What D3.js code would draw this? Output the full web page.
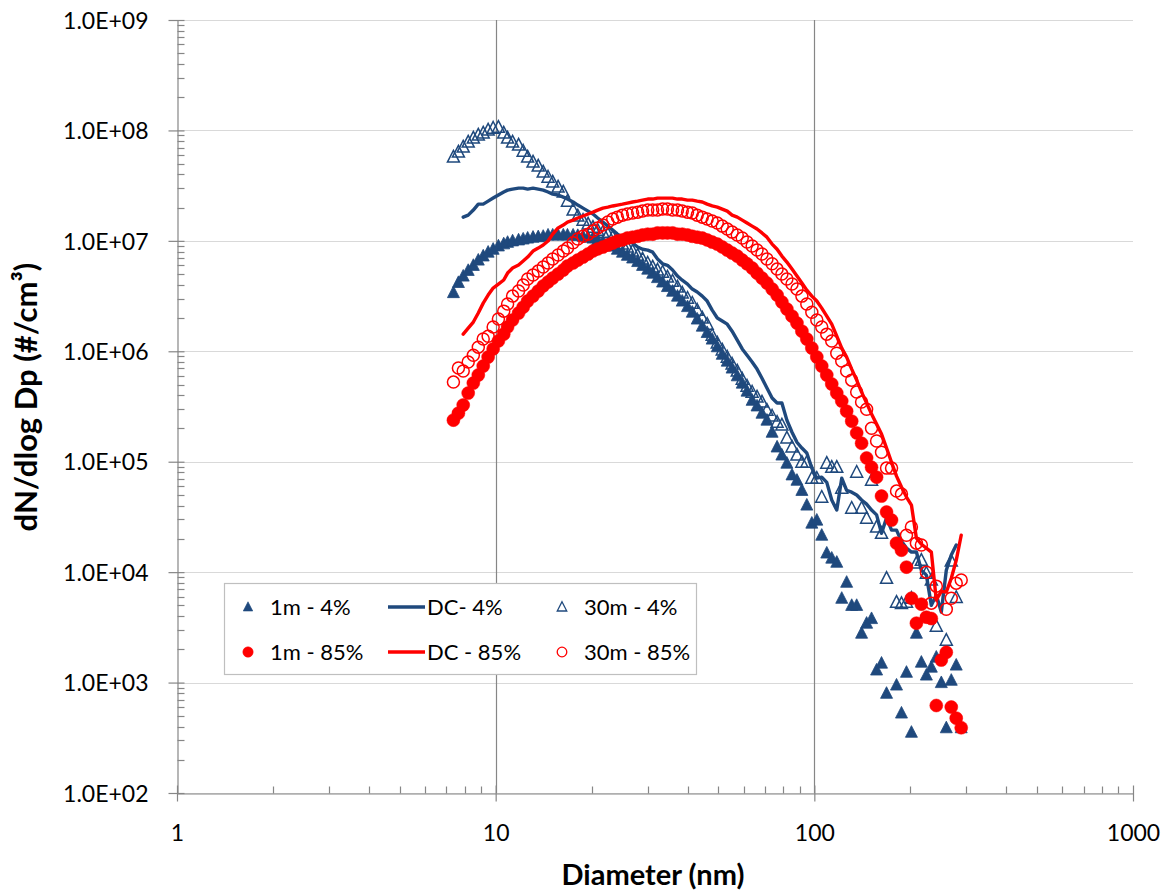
<!DOCTYPE html>
<html><head><meta charset="utf-8">
<script src="https://cdn.jsdelivr.net/npm/d3@7"></script>
<style>
body{margin:0;background:#fff}
svg{display:block}
text{font-family:Lato,"Open Sans",sans-serif;fill:#000}
</style>
</head><body>
<svg id="chart" width="1167" height="894"></svg>
<script>
// ---------- data ----------
const diameters = [7.37,7.64,7.91,8.20,8.51,8.82,9.14,9.47,9.82,10.2,
10.6,10.9,11.3,11.8,12.2,12.6,13.1,13.6,14.1,14.6,
15.1,15.7,16.3,16.8,17.5,18.1,18.8,19.5,20.2,20.9,
21.7,22.5,23.3,24.1,25.0,25.9,26.9,27.9,28.9,30.0,
31.1,32.2,33.4,34.6,35.9,37.2,38.5,40.0,41.4,42.9,
44.5,46.1,47.8,49.6,51.4,53.3,55.2,57.3,59.4,61.5,
63.8,66.1,68.5,71.0,73.7,76.4,79.1,82.0,85.1,88.2,
91.4,94.7,98.2,101.8,105.5,109.4,113.4,117.6,121.9,126.3,
131.0,135.8,140.7,145.9,151.2,156.8,162.5,168.5,174.7,181.1,
187.7,194.6,201.7,209.1,216.7,224.7,232.9,241.4,250.3,259.5,
269.0,278.8,289.0];

const m1_4 = [3.4e6,4.2e6,4.8e6,5.4e6,6.0e6,6.7e6,7.3e6,7.9e6,8.4e6,9.0e6,
9.4e6,9.7e6,1.0e7,1.02e7,1.04e7,1.06e7,1.08e7,1.09e7,1.1e7,1.13e7,
1.13e7,1.13e7,1.13e7,1.13e7,1.13e7,1.12e7,1.1e7,1.08e7,1.06e7,1.02e7,
9.75e6,9.35e6,8.97e6,8.4e6,7.9e6,7.4e6,7.0e6,6.5e6,6.0e6,5.55e6,
5.1e6,4.65e6,4.24e6,3.86e6,3.5e6,3.16e6,2.85e6,2.54e6,2.26e6,1.96e6,
1.69e6,1.48e6,1.29e6,1.1e6,9.4e5,8.15e5,7.05e5,6.0e5,5.15e5,4.36e5,
3.6e5,3.2e5,2.75e5,2.38e5,1.85e5,1.36e5,1.15e5,9.7e4,7.6e4,6.8e4,
5.5e4,4.05e4,2.78e4,2.96e4,2.16e4,1.49e4,1.34e4,1.23e4,5.8e3,8.1e3,
5.0e3,5.0e3,2.8e3,3.45e3,3.8e3,1.3e3,1.5e3,8.0e2,null,9.5e2,
5.3e2,1.24e3,3.55e2,2.8e3,1.53e3,1.17e3,1.38e3,1.7e3,1.0e3,3.9e2,
1.05e3,1.44e3,3.9e2];

const dc_4 = [null,null,1.64e7,1.71e7,1.9e7,2.15e7,2.15e7,2.29e7,2.44e7,2.6e7,
2.77e7,2.88e7,2.94e7,3.0e7,3.0e7,2.94e7,3.0e7,2.94e7,2.88e7,2.77e7,
2.65e7,2.6e7,2.49e7,2.39e7,2.25e7,2.11e7,1.98e7,1.86e7,1.75e7,1.61e7,
1.48e7,1.36e7,1.25e7,1.15e7,1.08e7,1.02e7,9.55e6,8.8e6,8.4e6,8.25e6,
7.9e6,6.85e6,6.2e6,6.0e6,5.45e6,4.8e6,4.4e6,4.06e6,3.66e6,3.44e6,
3.16e6,2.85e6,2.36e6,2.0e6,1.88e6,1.76e6,1.52e6,1.26e6,1.05e6,9.2e5,
8.0e5,6.9e5,5.7e5,4.65e5,3.77e5,3.4e5,3.4e5,2.38e5,1.85e5,1.5e5,
1.33e5,1.2e5,8.75e4,7.1e4,7.25e4,6.5e4,4.5e4,3.65e4,7.1e4,5.5e4,
5.3e4,5.0e4,4.5e4,4.13e4,3.65e4,3.3e4,2.25e4,3.1e4,2.4e4,2.4e4,
1.9e4,1.65e4,1.52e4,1.52e4,1.04e4,9.4e3,5.0e3,6.2e3,4.35e3,1.04e4,
1.43e4,1.76e4,null];

const m30_4 = [5.74e7,6.37e7,7.07e7,7.85e7,8.53e7,9.08e7,9.47e7,1.01e8,1.05e8,1.07e8,
9.47e7,8.53e7,7.85e7,7.38e7,6.5e7,5.74e7,5.17e7,4.76e7,4.2e7,3.78e7,
3.41e7,3.07e7,2.77e7,2.29e7,1.9e7,1.68e7,1.54e7,1.42e7,1.33e7,1.25e7,
1.2e7,1.15e7,1.08e7,1.02e7,9.35e6,8.8e6,8.08e6,7.4e6,6.85e6,6.29e6,
5.79e6,5.45e6,5.21e6,4.7e6,4.32e6,3.82e6,3.37e6,3.03e6,2.73e6,2.36e6,
2.0e6,1.76e6,1.4e6,1.19e6,1.03e6,8.86e5,7.66e5,6.62e5,5.6e5,4.84e5,
4.27e5,3.85e5,3.47e5,2.93e5,2.59e5,2.28e5,2.15e5,1.64e5,1.36e5,1.15e5,
9.9e4,9.9e4,7.1e4,7.1e4,4.78e4,9.7e4,8.9e4,8.9e4,5.77e4,null,
3.8e4,8.05e4,3.8e4,3.08e4,6.8e4,2.56e4,2.25e4,8.8e3,null,5.35e3,
5.2e3,5.35e3,5.8e3,1.21e4,1.28e4,9.8e3,8.5e3,3.24e3,null,2.42e3,
1.26e4,5.9e3,null];

const m1_85 = [2.38e5,2.75e5,3.26e5,4.18e5,5.15e5,6.09e5,7.34e5,8.86e5,1.05e6,1.24e6,
1.43e6,1.66e6,1.92e6,2.22e6,2.51e6,2.85e6,3.16e6,3.51e6,3.9e6,4.24e6,
4.6e6,5.0e6,5.44e6,5.91e6,6.3e6,6.7e6,7.13e6,7.59e6,8.09e6,8.44e6,
8.79e6,9.16e6,9.55e6,9.96e6,1.02e7,1.06e7,1.08e7,1.1e7,1.13e7,1.15e7,
1.15e7,1.18e7,1.18e7,1.18e7,1.18e7,1.15e7,1.15e7,1.13e7,1.1e7,1.08e7,
1.06e7,1.02e7,9.75e6,9.35e6,8.8e6,8.25e6,7.75e6,7.28e6,6.7e6,6.2e6,
5.67e6,5.1e6,4.6e6,4.15e6,3.66e6,3.23e6,2.79e6,2.41e6,2.08e6,1.8e6,
1.52e6,1.29e6,1.07e6,8.86e5,7.34e5,6.09e5,5.05e5,4.18e5,3.54e5,2.87e5,
2.33e5,1.82e5,1.47e5,1.08e5,8.9e4,7.25e4,4.88e4,3.5e4,2.96e4,1.83e4,
1.58e4,1.11e4,5.8e3,3.45e3,5.13e3,3.91e3,3.8e3,6.2e2,1.6e3,1.88e3,
6.0e2,4.76e2,3.9e2];

const dc_85 = [null,null,1.43e6,1.62e6,1.84e6,2.22e6,2.73e6,3.23e6,3.74e6,4.06e6,
4.42e6,5.11e6,5.68e6,6.04e6,6.56e6,7.13e6,8.09e6,8.6e6,9.16e6,9.96e6,
1.15e7,1.31e7,1.39e7,1.48e7,1.54e7,1.61e7,1.68e7,1.75e7,1.82e7,1.9e7,
1.98e7,2.02e7,2.07e7,2.11e7,2.15e7,2.2e7,2.25e7,2.29e7,2.34e7,2.39e7,
2.39e7,2.44e7,2.44e7,2.44e7,2.44e7,2.39e7,2.39e7,2.34e7,2.34e7,2.29e7,
2.25e7,2.15e7,2.07e7,2.02e7,1.94e7,1.86e7,1.71e7,1.64e7,1.54e7,1.45e7,
1.36e7,1.28e7,1.18e7,1.08e7,9.35e6,8.4e6,7.28e6,6.43e6,5.55e6,4.8e6,
4.15e6,3.58e6,3.16e6,2.85e6,2.46e6,2.08e6,1.76e6,1.37e6,1.07e6,8.86e5,
6.9e5,5.48e5,4.27e5,3.4e5,2.7e5,2.19e5,1.78e5,1.33e5,9.9e4,7.4e4,
5.9e4,4.78e4,4.05e4,2.03e4,1.79e4,1.65e4,1.52e4,5.6e3,6.7e3,6.6e3,
8.8e3,1.28e4,2.16e4];

const m30_85 = [5.26e5,7.05e5,6.62e5,8.0e5,9.2e5,1.09e6,1.29e6,1.37e6,1.66e6,1.96e6,
2.31e6,2.68e6,3.16e6,3.51e6,3.98e6,4.51e6,4.9e6,5.32e6,5.79e6,6.3e6,
6.84e6,7.44e6,8.09e6,8.6e6,9.6e6,1.04e7,1.1e7,1.15e7,1.23e7,1.31e7,
1.39e7,1.48e7,1.58e7,1.64e7,1.71e7,1.75e7,1.79e7,1.82e7,1.86e7,1.9e7,
1.9e7,1.9e7,1.94e7,1.94e7,1.9e7,1.9e7,1.86e7,1.82e7,1.79e7,1.71e7,
1.64e7,1.58e7,1.51e7,1.45e7,1.36e7,1.28e7,1.2e7,1.13e7,1.06e7,9.75e6,
8.97e6,8.25e6,7.6e6,6.85e6,6.2e6,5.55e6,5.0e6,4.51e6,4.06e6,3.66e6,
3.16e6,2.68e6,2.26e6,1.92e6,1.66e6,1.43e6,1.24e6,9.6e5,8.15e5,6.62e5,
5.48e5,4.27e5,3.47e5,2.99e5,2.01e5,1.54e5,1.22e5,8.75e4,8.75e4,5.42e4,
5.09e4,2.16e4,2.56e4,1.83e4,1.76e4,1.0e4,5.24e3,7.47e3,null,4.62e3,
5.8e3,7.95e3,8.5e3];

const seriesNames = ["1m - 4%","DC- 4%","30m - 4%","1m - 85%","DC - 85%","30m - 85%"];
const xTicks = [1,10,100,1000];
const xTickLabels = ["1","10","100","1000"];
const yTicks = [1e2,1e3,1e4,1e5,1e6,1e7,1e8,1e9];
const yTickLabels = ["1.0E+02","1.0E+03","1.0E+04","1.0E+05","1.0E+06","1.0E+07","1.0E+08","1.0E+09"];
const xTitle = "Diameter (nm)";
const yTitle = "dN/dlog Dp (#/cm³)";

// ---------- setup ----------
const NAVY = "#1F497D", RED = "#FF0000", AXIS = "#868686", GRID = "#d9d9d9";
const svg = d3.select("#chart");
const L = 177, R = 1133, T = 20, B = 793;
const x = d3.scaleLog().domain([1,1000]).range([L,R]);
const y = d3.scaleLog().domain([1e2,1e9]).range([B,T]);

// horizontal gridlines
svg.append("g").selectAll("line").data(yTicks).join("line")
  .attr("x1",L).attr("x2",R).attr("y1",d=>Math.round(y(d))+0.5).attr("y2",d=>Math.round(y(d))+0.5)
  .attr("stroke",GRID).attr("stroke-width",1.2);
// vertical gridlines
svg.append("g").selectAll("line").data(xTicks.filter(d=>d>1&&d<1000)).join("line")
  .attr("y1",T).attr("y2",B).attr("x1",d=>Math.round(x(d))+0.5).attr("x2",d=>Math.round(x(d))+0.5)
  .attr("stroke",AXIS).attr("stroke-width",1.2);

// axes (D3 axes for labels, custom tick styling)
const minorX = [];
[1,10,100].forEach(b=>{for(let k=2;k<=9;k++) minorX.push(b*k);});
const minorY = [];
yTicks.slice(0,-1).forEach(b=>{for(let k=2;k<=9;k++) minorY.push(b*k);});

const gx = svg.append("g").attr("transform",`translate(0,${B+0.5})`);
gx.call(d3.axisBottom(x).tickValues(xTicks).tickFormat((d,i)=>xTickLabels[i]).tickSize(0).tickPadding(0));
gx.select(".domain").attr("stroke",AXIS).attr("stroke-width",1.2);
gx.selectAll(".tick text").attr("font-size",23).attr("y",47).attr("dy",0).attr("fill","#000").attr("font-family","Lato");
gx.selectAll(".tick").append("line").attr("y1",-8).attr("y2",8).attr("stroke",AXIS).attr("stroke-width",1.2);
gx.selectAll(".minor").data(minorX).join("line").attr("class","minor")
  .attr("x1",d=>Math.round(x(d))+0.5).attr("x2",d=>Math.round(x(d))+0.5).attr("y1",-7).attr("y2",0)
  .attr("stroke",AXIS).attr("stroke-width",1.2);

const gy = svg.append("g").attr("transform",`translate(${L+0.5},0)`);
gy.call(d3.axisLeft(y).tickValues(yTicks).tickFormat((d,i)=>yTickLabels[i]).tickSize(0).tickPadding(0));
gy.select(".domain").attr("stroke",AXIS).attr("stroke-width",1.2);
gy.selectAll(".tick text").attr("font-size",23).attr("x",-29).attr("dy","0.36em").attr("fill","#000").attr("font-family","Lato");
gy.selectAll(".tick").append("line").attr("x1",-9).attr("x2",7).attr("stroke",AXIS).attr("stroke-width",1.2);
gy.selectAll(".minor").data(minorY).join("line").attr("class","minor")
  .attr("y1",d=>Math.round(y(d))+0.5).attr("y2",d=>Math.round(y(d))+0.5).attr("x1",0).attr("x2",7)
  .attr("stroke",AXIS).attr("stroke-width",1.2);

// axis titles
svg.append("text").attr("x",653).attr("y",885).attr("text-anchor","middle")
  .attr("font-size",29).attr("font-weight","bold").text(xTitle);
svg.append("text").attr("transform","translate(37,397) rotate(-90)").attr("text-anchor","middle")
  .attr("font-size",31).attr("font-weight","bold").text(yTitle);

// ---------- series ----------
const triPath = s => `M0,${-s*0.55}L${s*0.5},${s*0.42}L${-s*0.5},${s*0.42}Z`;
function pts(vals){ return diameters.map((d,i)=>({d, v: vals[i]})).filter(p=>p.v!=null); }
const plot = svg.append("g");

function drawTri(vals, filled){
  plot.append("g").selectAll("path").data(pts(vals)).join("path")
    .attr("d",triPath(12)).attr("transform",p=>`translate(${x(p.d)},${y(p.v)})`)
    .attr("fill",filled?NAVY:"none").attr("stroke",NAVY).attr("stroke-width",filled?0.8:1.5);
}
function drawCircle(vals, filled){
  plot.append("g").selectAll("circle").data(pts(vals)).join("circle")
    .attr("cx",p=>x(p.d)).attr("cy",p=>y(p.v)).attr("r",filled?6.5:6)
    .attr("fill",filled?RED:"none").attr("stroke",RED).attr("stroke-width",filled?0.5:1.5);
}
function drawLine(vals, color){
  const line = d3.line().defined(p=>p.v!=null).x(p=>x(p.d)).y(p=>y(p.v));
  plot.append("path").datum(diameters.map((d,i)=>({d,v:vals[i]})))
    .attr("d",line).attr("fill","none").attr("stroke",color).attr("stroke-width",3.4)
    .attr("stroke-linejoin","round").attr("stroke-linecap","round");
}
drawTri(m1_4,true);
drawLine(dc_4,NAVY);
drawTri(m30_4,false);
drawCircle(m1_85,true);
drawLine(dc_85,RED);
drawCircle(m30_85,false);

// ---------- legend ----------
const lg = svg.append("g");
lg.append("rect").attr("x",224.5).attr("y",583.5).attr("width",472).attr("height",91)
  .attr("fill","#fff").attr("stroke","#bfbfbf").attr("stroke-width",1.2);
const legendItems = [
  {name:seriesNames[0], kind:"triF", mx:248, tx:270, cy:607},
  {name:seriesNames[1], kind:"lineN", mx:388, tx:427, cy:607},
  {name:seriesNames[2], kind:"triO", mx:562, tx:584, cy:607},
  {name:seriesNames[3], kind:"cirF", mx:248, tx:270, cy:652},
  {name:seriesNames[4], kind:"lineR", mx:388, tx:427, cy:652},
  {name:seriesNames[5], kind:"cirO", mx:562, tx:584, cy:652}
];
legendItems.forEach(it=>{
  const g = lg.append("g");
  if(it.kind==="triF"||it.kind==="triO"){
    g.append("path").attr("d",triPath(9.5)).attr("transform",`translate(${it.mx},${it.cy})`)
      .attr("fill",it.kind==="triF"?NAVY:"none").attr("stroke",NAVY).attr("stroke-width",it.kind==="triF"?0.6:1.3);
  } else if(it.kind==="cirF"||it.kind==="cirO"){
    g.append("circle").attr("cx",it.mx).attr("cy",it.cy).attr("r",it.kind==="cirF"?5.2:4.8)
      .attr("fill",it.kind==="cirF"?RED:"none").attr("stroke",RED).attr("stroke-width",it.kind==="cirF"?0.5:1.3);
  } else {
    g.append("line").attr("x1",it.mx).attr("x2",it.mx+37).attr("y1",it.cy).attr("y2",it.cy)
      .attr("stroke",it.kind==="lineN"?NAVY:RED).attr("stroke-width",3.4);
  }
  g.append("text").attr("x",it.tx).attr("y",it.cy).attr("dy","0.36em").attr("font-size",22).text(it.name);
});
</script>
</body></html>
